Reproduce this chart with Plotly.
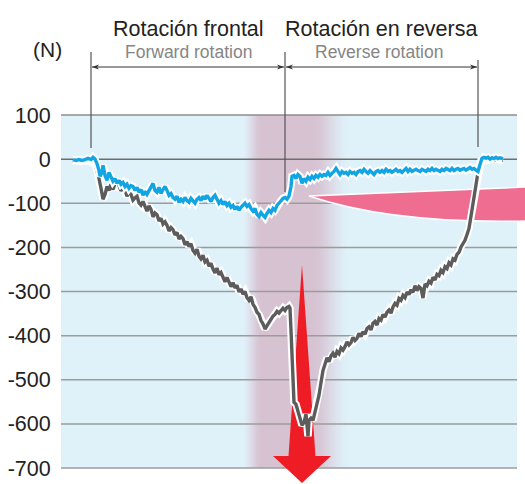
import plotly.graph_objects as go

# ---------------- data (time index, force in N) ----------------
blue_t = [0, 3, 6, 9, 12, 15, 18, 20, 22, 24, 26, 27, 29, 30, 32, 34, 36, 38, 40, 42, 44, 46, 48, 50,
          52, 54, 56, 58, 60, 62, 64, 66, 68, 70, 72, 74, 76, 78, 80, 82, 84, 86, 88, 90, 92, 94, 96,
          98, 100, 102, 104, 106, 108, 110, 112, 114, 116, 118, 120, 122, 124, 126, 128, 130, 132,
          134, 136, 138, 140, 142, 144, 146, 148, 150, 152, 154, 156, 158, 160, 162, 164, 166, 168,
          170, 172, 174, 176, 178, 180, 182, 184, 186, 188, 190, 192, 194, 196, 198, 200, 202, 204,
          206, 208, 210, 212, 214, 216, 218, 219, 221, 223, 225, 227, 229, 231, 233, 235, 237, 239,
          241, 243, 245, 247, 249, 251, 253, 255, 257, 259, 261, 263, 265, 267, 269, 271, 273, 275,
          277, 279, 281, 283, 285, 287, 289, 291, 293, 295, 297, 299, 301, 303, 305, 307, 309, 311,
          313, 315, 317, 319, 321, 323, 325, 327, 329, 331, 333, 335, 337, 339, 341, 343, 345, 347,
          349, 351, 353, 355, 357, 359, 361, 363, 365, 367, 369, 371, 373, 375, 377, 379, 381, 383,
          385, 387, 389, 391, 393, 395, 397, 399, 401, 403, 405, 407, 409, 411, 413, 415, 417, 419,
          421, 423, 425, 427, 430]
blue_n = [-1, -3, -1, -3, -1, 2, -1, 4, 0, -10, -26, -39, -30, -14, -37, -48, -30, -41, -50, -44, -55,
          -48, -57, -53, -62, -57, -66, -60, -62, -71, -64, -75, -69, -82, -73, -80, -71, -62, -55,
          -71, -75, -64, -78, -69, -62, -71, -82, -78, -87, -91, -84, -98, -91, -96, -87, -94, -98,
          -89, -94, -100, -91, -87, -94, -84, -91, -82, -89, -96, -87, -82, -91, -100, -94, -103,
          -96, -105, -100, -109, -105, -114, -107, -116, -109, -105, -100, -107, -103, -112, -118,
          -112, -125, -130, -121, -127, -132, -123, -116, -121, -112, -116, -105, -100, -94, -89,
          -87, -91, -84, -62, -39, -37, -44, -35, -39, -55, -44, -50, -41, -46, -39, -44, -37, -41,
          -35, -39, -35, -37, -30, -37, -32, -28, -21, -30, -35, -28, -32, -30, -35, -28, -32, -30,
          -35, -28, -26, -30, -23, -28, -32, -26, -30, -35, -28, -26, -30, -26, -30, -23, -28, -26,
          -30, -26, -23, -28, -26, -30, -26, -21, -28, -23, -28, -26, -23, -26, -28, -23, -26, -28,
          -23, -26, -21, -26, -23, -26, -28, -23, -26, -21, -23, -26, -21, -26, -23, -21, -25, -23,
          -21, -25, -22, -19, -23, -21, -25, -28, -12, 2, 4, 2, 4, 0, 3, 1, 4, 1, 3, 1]

gray_t = [0, 3, 6, 9, 12, 15, 18, 20, 22, 24, 26, 28, 30, 32, 34, 36, 38, 40, 42, 44, 46, 48, 50, 52,
          54, 56, 58, 60, 62, 64, 66, 68, 70, 72, 74, 76, 78, 80, 82, 84, 86, 88, 90, 92, 94, 96, 98,
          100, 102, 104, 106, 108, 110, 112, 114, 116, 118, 120, 122, 124, 126, 128, 130, 132, 134,
          136, 138, 140, 142, 144, 146, 148, 150, 152, 154, 156, 158, 160, 162, 164, 166, 168, 170,
          172, 174, 176, 178, 180, 182, 184, 186, 188, 190, 192, 194, 196, 198, 200, 202, 204, 206,
          208, 210, 212, 214, 216, 217, 218, 219, 220, 221, 223, 225, 227, 229, 231, 233, 234, 235,
          236, 238, 240, 242, 244, 246, 248, 250, 252, 254, 256, 258, 260, 262, 264, 266, 268, 270,
          272, 274, 276, 278, 280, 282, 284, 286, 288, 290, 292, 294, 296, 298, 300, 302, 304, 306,
          308, 310, 312, 314, 316, 318, 320, 322, 324, 326, 328, 330, 332, 334, 336, 338, 340, 342,
          344, 346, 348, 350, 352, 354, 356, 358, 360, 362, 364, 366, 368, 370, 372, 374, 376, 378,
          380, 382, 384, 386, 388, 390, 392, 394, 396, 397, 398, 399, 400, 401, 402, 403, 404, 405,
          406, 407, 408, 410, 413, 417, 421, 425, 430]
gray_n = [-3, -5, -3, -5, -3, -5, -3, -5, -10, -26, -44, -66, -91, -80, -62, -71, -57, -69, -55, -48,
          -58, -72, -63, -70, -84, -75, -80, -93, -88, -84, -99, -104, -96, -108, -118, -106, -114,
          -131, -122, -126, -140, -134, -147, -142, -150, -163, -155, -160, -172, -166, -181, -175,
          -180, -194, -187, -198, -192, -207, -213, -204, -220, -226, -218, -233, -229, -243, -236,
          -249, -258, -247, -262, -257, -270, -278, -268, -279, -289, -280, -292, -286, -301, -294,
          -306, -300, -314, -320, -312, -329, -336, -347, -352, -366, -373, -385, -377, -370, -361,
          -356, -352, -345, -349, -343, -338, -343, -336, -334, -338, -388, -456, -524, -551, -556,
          -574, -592, -603, -597, -578, -603, -628, -592, -587, -592, -574, -558, -535, -506, -479,
          -465, -450, -459, -446, -440, -449, -436, -441, -428, -433, -425, -414, -421, -416, -404,
          -411, -406, -395, -402, -391, -397, -384, -380, -387, -372, -368, -376, -361, -365, -352,
          -358, -347, -342, -349, -335, -327, -331, -316, -320, -309, -314, -301, -307, -296, -302,
          -287, -298, -289, -293, -315, -283, -287, -277, -281, -268, -274, -261, -264, -252, -257,
          -244, -248, -235, -240, -226, -229, -216, -211, -199, -192, -184, -171, -157, -143, -127,
          -112, -100, -84, -71, -57, -44, -30, -19, -10, -3, -1, -3, -1, -3, -1, -3]

y_ticks = [100, 0, -100, -200, -300, -400, -500, -600, -700]
y_tick_labels = ["100", "0", "-100", "-200", "-300", "-400", "-500", "-600", "-700"]
phase_t = [18, 212, 405]              # start, reversal, end
titles_es = ["Rotación frontal", "Rotación en reversa"]
titles_en = ["Forward rotation", "Reverse rotation"]
unit_label = "(N)"

# ---------------- styling helpers ----------------
W, H = 525, 484
L, R, T, B = 61, 8, 115, 16
PW, PH = W - L - R, H - T - B
X_RANGE = [-12, 444]
Y_RANGE = [-700, 100]


def X(px):
    return (px - L) / PW


def Y(py):
    return (H - B - py) / PH


def tx(t):  # data time -> pixel x
    return L + (t - X_RANGE[0]) / (X_RANGE[1] - X_RANGE[0]) * PW


FONT = "Liberation Sans, Arial, sans-serif"
BG = (223, 241, 249)
BAND = (215, 194, 210)

shapes = []


def smooth(f):
    f = max(0.0, min(1.0, f))
    return f * f * (3 - 2 * f)


# highlighted reversal band (soft gradient edges)
for px in range(238, 356, 2):
    c = px + 1
    if c < 262:
        f = smooth((c - 242) / 20)
    elif c > 312:
        f = smooth((350 - c) / 38)
    else:
        f = 1.0
    if f <= 0:
        continue
    col = tuple(round(BG[i] + (BAND[i] - BG[i]) * f) for i in range(3))
    shapes.append(dict(type="rect", xref="paper", yref="paper", layer="below",
                       x0=X(px), x1=X(px + 2.6), y0=0, y1=1,
                       line=dict(width=0), fillcolor="rgb(%d,%d,%d)" % col))

# gridlines
for v in y_ticks:
    col = "#6e6e6e" if v == 0 else ("#8c8c8c" if v == 100 else "#9c9c9c")
    yp = (v - Y_RANGE[0]) / (Y_RANGE[1] - Y_RANGE[0])
    shapes.append(dict(type="line", xref="paper", yref="paper", layer="below",
                       x0=0, x1=1, y0=yp, y1=yp, line=dict(color=col, width=1.5)))

# pink rotation wedge
wedge = "M %f,%f Q %f,%f %f,%f L %f,%f Q %f,%f %f,%f Z" % (
    X(309), Y(196), X(392), Y(224), X(527), Y(221), X(527), Y(187),
    X(420), Y(191), X(309), Y(196))
shapes.append(dict(type="path", xref="paper", yref="paper", layer="below", path=wedge,
                   fillcolor="#f06d92", line=dict(color="white", width=1.5)))

# red downward arrow
arrow = "M %f,%f L %f,%f L %f,%f L %f,%f L %f,%f L %f,%f Z" % (
    X(302), Y(265), X(315.5), Y(456), X(331), Y(456), X(302), Y(483),
    X(273), Y(456), X(288.5), Y(456))
shapes.append(dict(type="path", xref="paper", yref="paper", layer="below", path=arrow,
                   fillcolor="#ee1c25", line=dict(width=0)))

# phase boundary lines
line_tops = [52, 52, 60]
line_bottoms = [148, 192, 147]
for t, y0, y1 in zip(phase_t, line_tops, line_bottoms):
    shapes.append(dict(type="line", xref="x", yref="paper", layer="below",
                       x0=t, x1=t, y0=Y(y0), y1=Y(y1), line=dict(color="#555555", width=1.2)))

# double-headed span arrows
AY = 67
for a, b in [(phase_t[0], phase_t[1]), (phase_t[1], phase_t[2])]:
    xa, xb = tx(a) + 1, tx(b) - 1
    shapes.append(dict(type="line", xref="paper", yref="paper", layer="below",
                       x0=X(xa), x1=X(xb), y0=Y(AY), y1=Y(AY),
                       line=dict(color="#333333", width=1)))
    for tip, d in [(xa, 1), (xb, -1)]:
        p = "M %f,%f L %f,%f L %f,%f L %f,%f Z" % (
            X(tip), Y(AY), X(tip + 7 * d), Y(AY - 2.6), X(tip + 5 * d), Y(AY),
            X(tip + 7 * d), Y(AY + 2.6))
        shapes.append(dict(type="path", xref="paper", yref="paper", layer="below", path=p,
                           fillcolor="#333333", line=dict(width=0)))

# ---------------- figure ----------------
fig = go.Figure()
GRAY = "#5c5c5c"
BLUE = "#12a5e3"
fig.add_trace(go.Scatter(x=gray_t, y=gray_n, mode="lines", line=dict(color="white", width=7.5),
                         hoverinfo="skip", showlegend=False))
fig.add_trace(go.Scatter(x=gray_t, y=gray_n, mode="lines", line=dict(color=GRAY, width=3.4),
                         showlegend=False))
fig.add_trace(go.Scatter(x=blue_t, y=blue_n, mode="lines", line=dict(color="white", width=7.5),
                         hoverinfo="skip", showlegend=False))
fig.add_trace(go.Scatter(x=blue_t, y=blue_n, mode="lines", line=dict(color=BLUE, width=3.4),
                         showlegend=False))

annotations = []
title_x = [188, 381]
sub_x = [188, 379]
for i in range(2):
    annotations.append(dict(text=titles_es[i], xref="paper", yref="paper", x=X(title_x[i]),
                            y=Y(29), xanchor="center", yanchor="middle", showarrow=False,
                            font=dict(family=FONT, size=21.5, color="#222222")))
    annotations.append(dict(text=titles_en[i], xref="paper", yref="paper", x=X(sub_x[i]),
                            y=Y(52), xanchor="center", yanchor="middle", showarrow=False,
                            font=dict(family=FONT, size=17.5, color="#858585")))
annotations.append(dict(text=unit_label, xref="paper", yref="paper", x=X(47), y=Y(50),
                        xanchor="center", yanchor="middle", showarrow=False,
                        font=dict(family=FONT, size=21, color="#222222")))

fig.update_layout(
    width=W, height=H,
    margin=dict(l=L, r=R, t=T, b=B, pad=0, autoexpand=False),
    paper_bgcolor="white",
    plot_bgcolor="rgb(%d,%d,%d)" % BG,
    shapes=shapes,
    annotations=annotations,
    showlegend=False,
    xaxis=dict(range=X_RANGE, visible=False, showgrid=False, zeroline=False, fixedrange=True,
               automargin=False),
    yaxis=dict(range=Y_RANGE, tickvals=y_ticks, ticktext=y_tick_labels, showgrid=False,
               zeroline=False, showline=False, ticks="outside", ticklen=5, automargin=False,
               tickcolor="rgba(0,0,0,0)", tickfont=dict(family=FONT, size=21.5, color="#222222"),
               fixedrange=True),
)

fig.write_html("out.html",
               config={"displayModeBar": False, "responsive": False},
               post_script="document.body.style.margin='0';"
                           "document.documentElement.style.overflow='hidden';")
